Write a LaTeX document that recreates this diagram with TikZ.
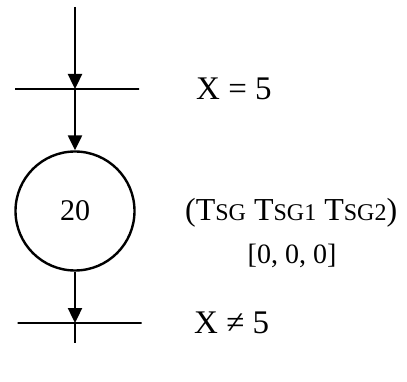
\documentclass[tikz,border=0pt]{standalone}
\usepackage{fontspec}
\setmainfont{Liberation Serif}
\usetikzlibrary{arrows.meta}
\begin{document}
\begin{tikzpicture}[x=1pt,y=1pt,
  line width=2.4pt,
  stepcircle/.style={circle,draw,minimum size=119pt,inner sep=0pt,font=\fontsize{30}{32}\selectfont},
  bar/.style={rectangle,draw,minimum width=124pt,minimum height=0pt,inner sep=0pt},
  lbl/.style={anchor=west,inner sep=0pt,font=\fontsize{33}{36}\selectfont},
  flow/.style={-{Triangle[length=15pt,width=14pt]}},
]
\useasboundingbox (0,0) rectangle (407,-382);
\coordinate (top) at (75,-7);
\coordinate (bot) at (75,-343);
\node[bar] (t1) at (77,-89) {};
\node[bar] (t2) at (79.5,-323) {};
\node[stepcircle] (s20) at (75,-211) {20};
\coordinate (t1c) at (75,-89);
\coordinate (t2c) at (75,-323);
\draw[flow] (top) -- (t1c);
\draw[flow] (t1c) -- (s20.north);
\draw[flow] (s20.south) -- (t2c);
\draw (t2c) -- (bot);
\node[lbl] (c1) at (195,-89) {X = 5};
\node[lbl] (c2) at (193,-323) {X ≠ 5};
\node[lbl,font=\fontsize{32}{34}\selectfont] (tsg) at (184,-213) {(T{\fontsize{24}{26}\selectfont SG} T{\fontsize{24}{26}\selectfont SG1} T{\fontsize{24}{26}\selectfont SG2})};
\node[anchor=center,inner sep=0pt,font=\fontsize{28}{30}\selectfont] (vals) at (292,-256) {[0, 0, 0]};
\end{tikzpicture}
\end{document}
